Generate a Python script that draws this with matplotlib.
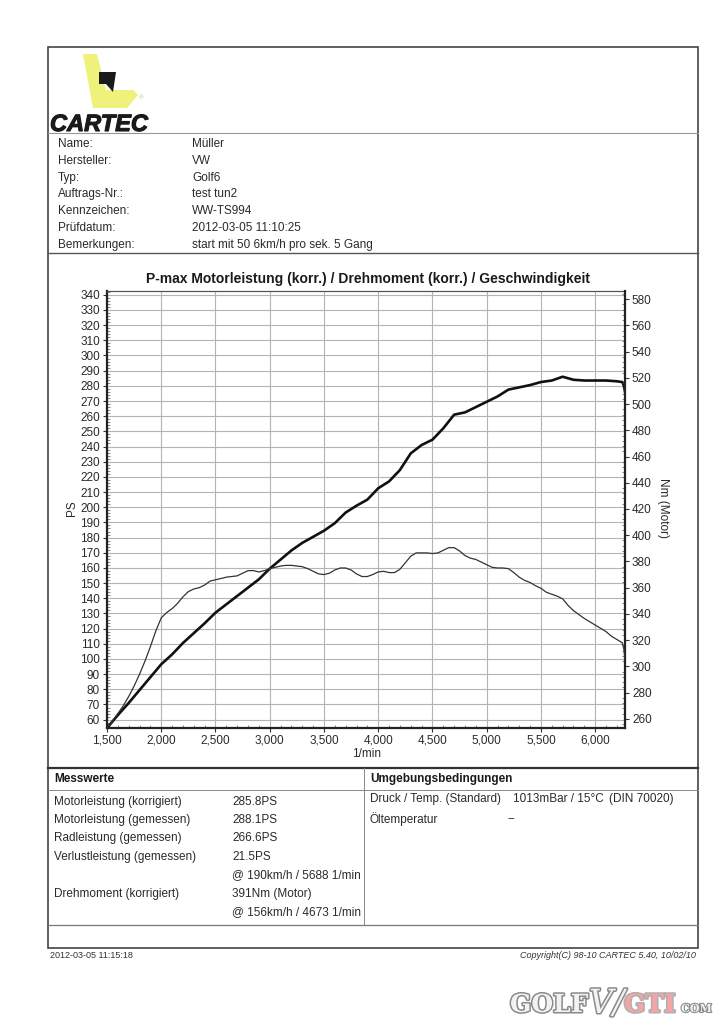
import matplotlib
matplotlib.use("Agg")
import matplotlib.pyplot as plt
import matplotlib.patheffects as pe
from matplotlib.patches import Polygon, Rectangle
from matplotlib.ticker import MultipleLocator, FuncFormatter

plt.rcParams['font.family'] = ['Liberation Sans', 'DejaVu Sans']

# ── Data ──────────────────────────────────────────────────────────────────────

header_labels = ["Name:", "Hersteller:", "Typ:", "Auftrags-Nr.:", "Kennzeichen:",
                 "Prüfdatum:", "Bemerkungen:"]
header_values = ["Müller", "VW", "Golf6", "test tun2", "WW-TS994",
                 "2012-03-05 11:10:25", "start mit 50 6km/h pro sek. 5 Gang"]

chart_title = "P-max Motorleistung (korr.) / Drehmoment (korr.) / Geschwindigkeit"

# thick curve, left axis (PS)
rpm_power = [1500, 1600, 1700, 1800, 1900, 2000, 2100, 2200, 2300, 2400, 2500,
             2600, 2700, 2800, 2900, 3000, 3100, 3200, 3300, 3400, 3500, 3600,
             3700, 3800, 3900, 4000, 4100, 4200, 4300, 4400, 4500, 4600, 4700,
             4800, 4900, 5000, 5100, 5200, 5300, 5400, 5500, 5600, 5700, 5800,
             5900, 6000, 6100, 6200, 6250, 6265, 6275]
power_ps = [54.5, 63, 71, 79.5, 88, 96.5, 103, 110.5, 117, 123.5, 130.5,
            136, 141.5, 147, 152.5, 159.5, 165.5, 171.5, 176.5, 180.5, 184.5, 189.5,
            196.5, 201, 205, 212.5, 217, 224.5, 235.5, 241, 244.5, 252, 261,
            262.5, 266, 269.5, 273, 277.5, 279, 280.5, 282.5, 283.5, 286, 284,
            283.5, 283.5, 283.5, 283, 282.5, 280, 276]

# thin curve, right axis (Nm)
rpm_torque = [1500, 1550, 1600, 1650, 1700, 1750, 1800, 1850, 1900, 1950, 2000,
              2050, 2100, 2150, 2200, 2250, 2300, 2350, 2400, 2450, 2500, 2550,
              2600, 2650, 2700, 2750, 2800, 2850, 2900, 2950, 3000, 3050, 3100,
              3150, 3200, 3250, 3300, 3350, 3400, 3450, 3500, 3550, 3600, 3650,
              3700, 3750, 3800, 3850, 3900, 3950, 4000, 4050, 4100, 4150, 4200,
              4250, 4300, 4350, 4400, 4450, 4500, 4550, 4600, 4650, 4700, 4750,
              4800, 4850, 4900, 4950, 5000, 5050, 5100, 5150, 5200, 5250, 5300,
              5350, 5400, 5450, 5500, 5550, 5600, 5650, 5700, 5750, 5800, 5850,
              5900, 5950, 6000, 6050, 6100, 6150, 6200, 6250, 6265, 6275]
torque_nm = [253, 258, 264, 270, 277, 285, 294, 304, 315, 327, 337,
             341, 344, 348, 353, 357, 359, 360, 362, 365, 366, 367,
             368, 368.5, 369, 371, 373, 373, 372, 373, 374.5, 375.5, 376.5,
             377, 377, 376.5, 376, 374.5, 372.5, 370.5, 370, 371, 373.5, 375,
             375, 373.5, 370.5, 368.5, 368.5, 370, 372, 372.5, 371.5, 371.5, 374,
             379, 384, 386.5, 386.5, 386.5, 386, 386.5, 388.5, 390.5, 390.5, 388,
             384.5, 382.5, 381.5, 379.5, 377.5, 375.5, 375, 375, 374.5, 371.5, 368,
             365.5, 364, 361.5, 359.5, 356.5, 355, 353.5, 351.5, 346.5, 342.5, 339.5,
             336.5, 334, 331.5, 329, 326.5, 323, 320.5, 318, 313, 305]

x_ticks = [1500, 2000, 2500, 3000, 3500, 4000, 4500, 5000, 5500, 6000]
ps_ticks = list(range(60, 341, 10))
nm_ticks = list(range(260, 581, 20))

mess_labels = ["Motorleistung (korrigiert)", "Motorleistung (gemessen)",
               "Radleistung (gemessen)", "Verlustleistung (gemessen)", "",
               "Drehmoment (korrigiert)", ""]
mess_values = ["285.8PS", "288.1PS", "266.6PS", "21.5PS",
               "@ 190km/h / 5688 1/min", "391Nm (Motor)", "@ 156km/h / 4673 1/min"]

umgebung = [("Druck / Temp. (Standard)", "1013mBar / 15°C", "(DIN 70020)"),
            ("Öltemperatur", "--", "")]

# ── Page ──────────────────────────────────────────────────────────────────────

W, H = 724, 1024
fig = plt.figure(figsize=(W / 100, H / 100), dpi=100)
fig.patch.set_facecolor("white")

# pixel-coordinate background axes for the form
bg = fig.add_axes([0, 0, 1, 1], zorder=0)
bg.set_xlim(0, W)
bg.set_ylim(H, 0)
bg.axis("off")

TXT = "#2a2a2a"
FS = 8.5

bg.add_patch(Rectangle((48, 47), 650, 901, fill=False, edgecolor="#444", lw=1.2))
bg.plot([48, 698], [133, 133], color="#9a93a8", lw=0.8)
bg.plot([48, 698], [253, 253], color="#555", lw=1.0)
bg.plot([48, 698], [768, 768], color="#333", lw=1.6)
bg.plot([48, 698], [790, 790], color="#888", lw=0.7)
bg.plot([364, 364], [768, 925], color="#888", lw=0.7)
bg.plot([48, 698], [925, 925], color="#777", lw=0.9)

# logo
bg.add_patch(Polygon([(83, 54), (97, 54), (106, 90), (133, 90), (138, 95),
                      (127, 108), (93, 108)], closed=True,
                     facecolor="#eef27a", edgecolor="none"))
bg.add_patch(Polygon([(99, 72), (116, 72), (113, 92), (106, 84), (99, 84)],
                     closed=True, facecolor="#1a1a1a", edgecolor="none"))
bg.text(141, 98, "®", fontsize=4.5, color="#c8c860", ha="center", va="center")
bg.text(50, 131, "CARTEC", fontsize=17, fontweight="heavy", fontstyle="italic",
        color="#1a1a1a", ha="left", va="baseline",
        path_effects=[pe.withStroke(linewidth=0.8, foreground="#1a1a1a")])

# header rows
for i, (lab, val) in enumerate(zip(header_labels, header_values)):
    y = 144 + i * 16.8
    bg.text(58, y, lab, fontsize=FS, color=TXT, ha="left", va="center")
    bg.text(192, y, val, fontsize=FS, color=TXT, ha="left", va="center")

# chart title and axis labels
bg.text(368, 279, chart_title, fontsize=10, fontweight="bold", color="#1a1a1a",
        ha="center", va="center")
bg.text(72, 508, "PS", fontsize=FS, color=TXT, rotation=90, ha="center", va="center")
bg.text(663, 508, "Nm (Motor)", fontsize=FS, color=TXT, rotation=270,
        ha="center", va="center")
bg.text(367, 754, "1/min", fontsize=FS, color=TXT, ha="center", va="center")

# Messwerte table
bg.text(54, 779, "Messwerte", fontsize=FS, fontweight="bold", color="#1a1a1a",
        ha="left", va="center")
bg.text(370, 779, "Umgebungsbedingungen", fontsize=FS, fontweight="bold",
        color="#1a1a1a", ha="left", va="center")
mess_y = [802, 820, 838, 857, 875, 894, 912]
for y, lab, val in zip(mess_y, mess_labels, mess_values):
    bg.text(54, y, lab, fontsize=FS, color=TXT, ha="left", va="center")
    bg.text(232, y, val, fontsize=FS, color=TXT, ha="left", va="center")
for y, (a, b, c) in zip([799, 819], umgebung):
    bg.text(370, y, a, fontsize=FS, color=TXT, ha="left", va="center")
    bg.text(513 if c else 508, y, b, fontsize=FS, color=TXT, ha="left", va="center")
    if c:
        bg.text(609, y, c, fontsize=FS, color=TXT, ha="left", va="center")

# footer
bg.text(50, 956, "2012-03-05 11:15:18", fontsize=6.5, color="#333",
        ha="left", va="center")
bg.text(696, 956, "Copyright(C) 98-10 CARTEC 5.40, 10/02/10", fontsize=6.5,
        fontstyle="italic", color="#333", ha="right", va="center")

# watermark
outline = [pe.withStroke(linewidth=2.2, foreground="#8a8a8a")]
bg.text(510, 1012, "GOLF", fontsize=18, fontweight="bold", family="DejaVu Serif",
        color="#f2f2f2", ha="left", va="baseline", path_effects=outline)
bg.text(589, 1013, "V/", fontsize=24, fontstyle="italic", family="DejaVu Serif",
        color="#f2f2f2", ha="left", va="baseline", path_effects=outline)
bg.text(624, 1012, "GTI", fontsize=18, fontweight="bold", family="DejaVu Serif",
        color="#f4a4a4", ha="left", va="baseline",
        path_effects=[pe.withStroke(linewidth=2.2, foreground="#b0b0b0")])
bg.text(681, 1012, "COM", fontsize=8, fontweight="bold", family="DejaVu Serif",
        color="#f2f2f2", ha="left", va="baseline",
        path_effects=[pe.withStroke(linewidth=1.5, foreground="#8a8a8a")])

# ── Chart ─────────────────────────────────────────────────────────────────────

left, right, top, bottom = 107, 625, 291, 728
ax = fig.add_axes([left / W, 1 - bottom / H, (right - left) / W, (bottom - top) / H],
                  zorder=2)
ax.set_facecolor("none")
ax.set_xlim(1500, 6275)
ax.set_ylim(54.5, 342.5)

ax.set_xticks(x_ticks)
ax.xaxis.set_major_formatter(FuncFormatter(lambda v, p: f"{int(v):,}"))
ax.xaxis.set_minor_locator(MultipleLocator(100))
ax.set_yticks(ps_ticks)
ax.yaxis.set_minor_locator(MultipleLocator(2))
ax.grid(True, which="major", color="#b4b4b4", lw=0.8)
ax.set_axisbelow(True)

ax.tick_params(which="major", direction="out", length=3, width=0.8,
               labelsize=FS, labelcolor=TXT, color="#333", pad=2)
ax.tick_params(axis="x", which="major", pad=2)
ax.tick_params(which="minor", direction="in", length=2, width=0.5, color="#555")

for side in ("left", "bottom"):
    ax.spines[side].set_linewidth(1.6)
    ax.spines[side].set_color("#222")
ax.spines["top"].set_linewidth(0.9)
ax.spines["top"].set_color("#555")
ax.spines["right"].set_visible(False)

ax.plot(rpm_power, power_ps, color="#111", lw=1.9, solid_joinstyle="round", zorder=4)

ax2 = ax.twinx()
ax2.set_ylim(253, 586.2)
ax2.set_yticks(nm_ticks)
ax2.yaxis.set_minor_locator(MultipleLocator(4))
ax2.tick_params(which="major", direction="out", length=3, width=0.8,
                labelsize=FS, labelcolor=TXT, color="#333", pad=2)
ax2.tick_params(which="minor", direction="in", length=2, width=0.5, color="#555")
for side in ("left", "bottom", "top"):
    ax2.spines[side].set_visible(False)
ax2.spines["right"].set_linewidth(1.6)
ax2.spines["right"].set_color("#222")
ax2.plot(rpm_torque, torque_nm, color="#333", lw=0.9, zorder=4)

fig.savefig("out.png", dpi=100, facecolor="white")
